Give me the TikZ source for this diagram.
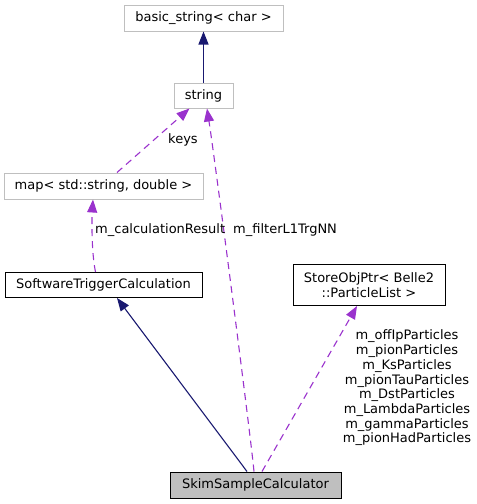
\documentclass[tikz,border=0pt]{standalone}
\usepackage{fontspec}
\setmainfont{DejaVu Sans}
\usetikzlibrary{arrows.meta}
\definecolor{edgeblue}{HTML}{191970}
\definecolor{edgepurple}{HTML}{9A32CD}
\definecolor{boxgray}{HTML}{BFBFBF}
\tikzset{
	box/.style={draw=boxgray, line width=1pt, inner sep=0pt, align=center,
		font=\fontsize{13}{15}\selectfont},
	docbox/.style={box, draw=black},
	inh/.style={edgeblue, line width=1.1pt, -{Triangle[length=13pt, width=10pt]}},
	use/.style={edgepurple, line width=1.1pt, dash pattern=on 7pt off 5pt,
		-{Triangle[length=13pt, width=10pt]}},
	lbl/.style={inner sep=0pt, align=center, font=\fontsize{13}{14.7}\selectfont}
}

\begin{document}
\begin{tikzpicture}[x=1pt, y=-1pt]
\useasboundingbox (0,0) rectangle (477,504);

\node[box, minimum width=159pt, minimum height=26pt] (bstr) at (203.5,18) {basic\_string< char >};
\node[box, minimum width=59pt, minimum height=25pt] (str) at (203.5,95.5) {string};
\node[box, minimum width=199pt, minimum height=26pt] (map) at (103.5,186) {map< std::string, double >};
\node[docbox, minimum width=197pt, minimum height=25pt] (swtc) at (103.5,285) {SoftwareTriggerCalculation};
\node[docbox, minimum width=152pt, minimum height=41pt] (sop) at (369,285) {StoreObjPtr< Belle2\\::ParticleList >};
\node[docbox, fill=boxgray, minimum width=171pt, minimum height=26pt] (skim) at (255.5,485) {SkimSampleCalculator};

\draw[inh] (str) -- (bstr);
\draw[inh] ([xshift=-8.5pt]skim.north) -- ([xshift=13.5pt]swtc.south);
\draw[use] ([xshift=13.5pt]map.north) -- ([xshift=-14pt]str.south);
\draw[use] ([xshift=-8pt]swtc.north) .. controls (91,250) and (92,215) .. ([xshift=-10.5pt]map.south);
\draw[use] ([xshift=-1.5pt]skim.north) .. controls (250,430) and (215,160) .. ([xshift=3.5pt]str.south);
\draw[use] ([xshift=6.5pt]skim.north) -- ([xshift=-12pt]sop.south);

\node[lbl] (keys) at (183,140) {keys};
\node[lbl, anchor=west] (calc) at (95,230) {m\_calculationResult};
\node[lbl, anchor=west] (filt) at (233,230) {m\_filterL1TrgNN};
\node[lbl] (parts) at (407,388) {m\_offIpParticles\\m\_pionParticles\\m\_KsParticles\\m\_pionTauParticles\\m\_DstParticles\\m\_LambdaParticles\\m\_gammaParticles\\m\_pionHadParticles};
\end{tikzpicture}
\end{document}
